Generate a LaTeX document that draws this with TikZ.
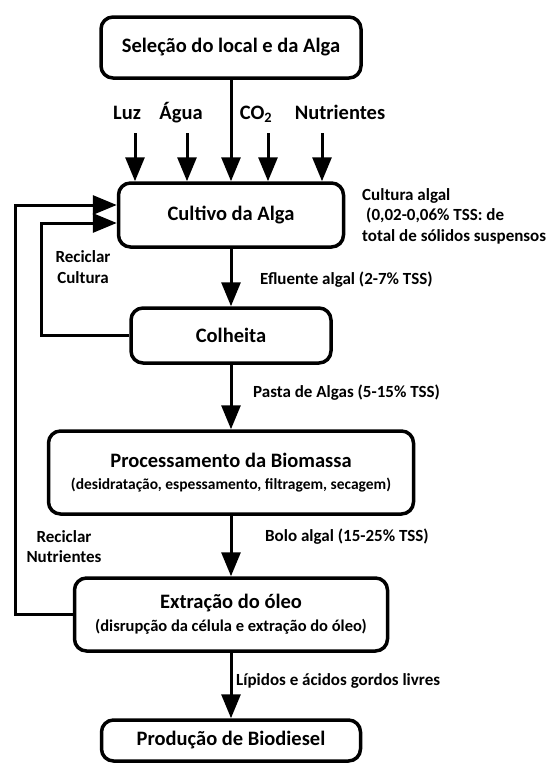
\documentclass[tikz,border=0pt]{standalone}
\usepackage{fontspec}
\setmainfont{Carlito}
\usetikzlibrary{arrows.meta,positioning}
\tikzset{
    caixa/.style={draw, line width=3.5pt, rounded corners=12pt, fill=white, align=center,
        font=\fontsize{20.5}{24}\selectfont\bfseries},
    seta/.style={line width=3pt, -{Triangle[length=24pt,width=19pt]}},
    entrada/.style={font=\fontsize{20.5}{24}\selectfont\bfseries, inner sep=0pt, anchor=base},
    rotulo/.style={font=\fontsize{17}{20.5}\selectfont\bfseries, inner sep=0pt, anchor=base west},
    nota/.style={font=\fontsize{17}{20.5}\selectfont\bfseries, inner sep=0pt, align=left}
}
\begin{document}
\begin{tikzpicture}[x=1pt, y=-1pt]
        \useasboundingbox (0,0) rectangle (549,763);
        \node[caixa, minimum width=260pt, minimum height=61pt] (sel) at (231,47.5) {Seleção do local e da Alga};
        \node[caixa, minimum width=225pt, minimum height=64pt] (cult) at (231,215) {Cultivo da Alga};
        \node[caixa, minimum width=200pt, minimum height=55pt] (colh) at (231,335.5) {Colheita};
        \node[caixa, minimum width=365pt, minimum height=83pt] (proc) at (231,472.5)
            {Processamento da Biomassa\\[-2pt]{\fontsize{15.5}{19}\selectfont (desidratação, espessamento, filtragem, secagem)}};
        \node[caixa, minimum width=313pt, minimum height=73pt] (extr) at (231,614.5)
            {Extração do óleo\\[-1pt]{\fontsize{16.5}{19}\selectfont (disrupção da célula e extração do óleo)}};
        \node[caixa, minimum width=259pt, minimum height=41pt] (prod) at (231,740.5) {Produção de Biodiesel};
        % entradas do cultivo
        \node[entrada] (luz) at (127,119) {Luz};
        \node[entrada] (agua) at (181,119) {Água};
        \node[entrada] (co2) at (256,119) {CO\textsubscript{2}};
        \node[entrada] (nutr) at (340,119) {Nutrientes};
        \foreach \nome/\x in {pLuz/135, pAgua/187, pCO/268, pNutr/322} {
            \coordinate (\nome) at (\x,133);
            \draw[seta] (\nome) -- (\nome |- cult.north);
        }
        % fluxo principal
        \draw[seta] (sel.south) -- (cult.north);
        \draw[seta] (cult.south) -- (colh.north);
        \draw[seta] (colh.south) -- (proc.north);
        \draw[seta] (proc.south) -- (extr.north);
        \draw[seta] (extr.south) -- (prod.north);
        \node[rotulo] (eflu) at (260,284.5) {Efluente algal (2-7\% TSS)};
        \node[rotulo] (pasta) at (253,397.5) {Pasta de Algas (5-15\% TSS)};
        \node[rotulo] (bolo) at (265,541.5) {Bolo algal (15-25\% TSS)};
        \node[rotulo] (lipi) at (236,685.5) {Lípidos e ácidos gordos livres};
        \node[nota, anchor=north west] (cultNota) at (362,188)
            {Cultura algal\\\hspace*{4pt}(0,02-0,06\% TSS: de\\total de sólidos suspensos};
        % reciclagem
        \coordinate (laco1) at (41,0);
        \coordinate (laco2) at (15,0);
        \draw[seta] (colh.west) -- (colh.west -| laco1) |- ([yshift=-8pt]cult.west);
        \draw[seta] (extr.west) -- (extr.west -| laco2) |- ([yshift=10pt]cult.west);
        \node[nota, align=center] (recCult) at (83,267) {Reciclar\\Cultura};
        \node[nota, align=center] (recNutr) at (64,546.5) {Reciclar\\Nutrientes};
\end{tikzpicture}
\end{document}
